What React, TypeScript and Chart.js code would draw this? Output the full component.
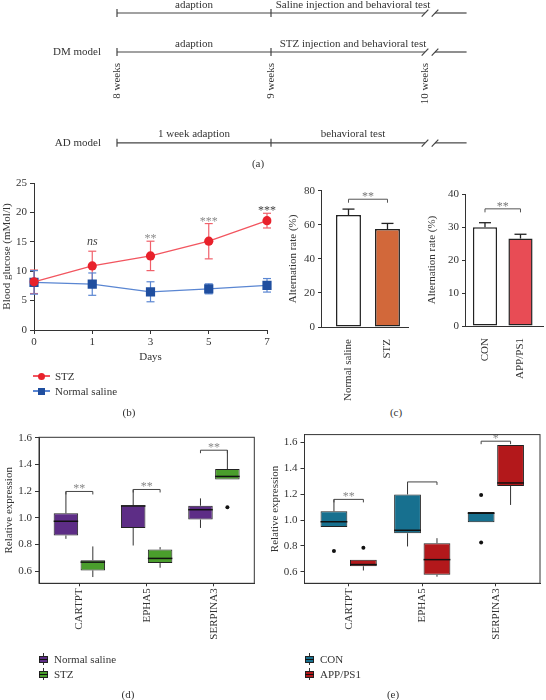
import React, { useEffect, useRef } from 'react';
import { Chart, registerables } from 'chart.js';

Chart.register(...registerables);

const FONT_FAMILY = '"Liberation Serif", "Times New Roman", serif';
const INK = '#333333';
Chart.defaults.font.family = FONT_FAMILY;
Chart.defaults.font.size = 11;
Chart.defaults.color = INK;

// ---------------- (a) timeline ----------------
const timelineWeeks = [8, 9, 10];
const timelineWeekLabels = ['8 weeks', '9 weeks', '10 weeks'];
const timelineRowLabels = ['', 'DM model', 'AD model'];
const timelinePhase1 = ['adaption', 'adaption', '1 week adaption'];
const timelinePhase2 = ['Saline injection and behavioral test', 'STZ injection and behavioral test', 'behavioral test'];
const timelineEndWeek = 10.27;

// ---------------- (b) blood glucose ----------------
const days = ['0', '1', '3', '5', '7'];
const stzGlucose = [8.2, 10.9, 12.6, 15.1, 18.6];
const stzGlucoseErr = [2.0, 2.5, 2.5, 3.0, 1.25];
const salineGlucose = [8.1, 7.8, 6.5, 7.0, 7.6];
const salineGlucoseErr = [2.0, 1.9, 1.7, 0.85, 1.15];
const glucoseSig = ['', 'ns', '**', '***', '***'];

// ---------------- (c) alternation rate ----------------
const dmGroups = ['Normal saline', 'STZ'];
const dmAlternation = [65.7, 57.5];
const dmAlternationErr = [3.5, 3.3];
const dmSigY = 75;
const adGroups = ['CON', 'APP/PS1'];
const adAlternation = [29.9, 26.5];
const adAlternationErr = [1.4, 1.3];
const adSigY = 35.5;

// ---------------- (d)/(e) relative expression ----------------
const genes = ['CARTPT', 'EPHA5', 'SERPINA3'];
const expressionTicks = [0.6, 0.8, 1.0, 1.2, 1.4, 1.6];
// [min, q1, median, q3, max] per gene
const dSalineBoxes = [
  [0.842, 0.867, 0.974, 1.034, 1.198],
  [0.792, 0.924, 1.089, 1.094, 1.213],
  [0.924, 0.987, 1.061, 1.091, 1.146],
];
const dStzBoxes = [
  [0.555, 0.605, 0.667, 0.682, 0.785],
  [0.625, 0.66, 0.695, 0.762, 0.78],
  [1.288, 1.288, 1.311, 1.366, 1.508],
];
const dSalineOutliers: number[][] = [];
const dStzOutliers = [[2, 1.079]];
const dBrackets = [[0, 1.198, '**'], [1, 1.213, '**'], [2, 1.508, '**']];

const eConBoxes = [
  [0.946, 0.946, 0.987, 1.068, 1.16],
  [0.796, 0.898, 0.921, 1.198, 1.295],
  [0.984, 0.984, 1.053, 1.063, 1.063],
];
const eAppBoxes = [
  [0.61, 0.643, 0.656, 0.694, 0.694],
  [0.562, 0.577, 0.694, 0.821, 0.86],
  [1.117, 1.264, 1.287, 1.58, 1.58],
];
const eConOutliers = [[0, 0.76], [2, 1.193], [2, 0.826]];
const eAppOutliers = [[0, 0.786]];
const eBrackets = [[0, 1.16, '**'], [1, 1.295, ''], [2, 1.61, '*']];

// ---------------- helpers ----------------
const font11 = { family: FONT_FAMILY, size: 11 };

function line(ctx: any, x1: number, y1: number, x2: number, y2: number) {
  ctx.beginPath();
  ctx.moveTo(x1, y1);
  ctx.lineTo(x2, y2);
  ctx.stroke();
}

function timelineConfig(): any {
  const rowY = [0, 1, 3.33];
  const breakGap = 0.065;
  const datasets: any[] = [];
  rowY.forEach((ry) => {
    datasets.push({ data: [{ x: timelineWeeks[0], y: ry }, { x: timelineWeeks[2], y: ry }] });
    datasets.push({ data: [{ x: timelineWeeks[2] + breakGap, y: ry }, { x: timelineEndWeek, y: ry }] });
  });
  datasets.forEach((d) => Object.assign(d, { showLine: true, borderColor: '#444', borderWidth: 1.2, pointRadius: 0 }));
  const plugin = {
    id: 'timelineMarks',
    afterDatasetsDraw(chart: any) {
      const { ctx, scales } = chart;
      const x = scales.x, y = scales.y;
      ctx.save();
      ctx.strokeStyle = '#444';
      ctx.lineWidth = 1.2;
      ctx.fillStyle = INK;
      ctx.font = `11px ${FONT_FAMILY}`;
      const [w0, w1, w2] = timelineWeeks;
      rowY.forEach((ry, r) => {
        const py = y.getPixelForValue(ry);
        [w0, w1].forEach((w) => {
          const px = x.getPixelForValue(w);
          line(ctx, px, py - 4, px, py + 4);
        });
        [w2, w2 + breakGap].forEach((w) => {
          const px = x.getPixelForValue(w);
          line(ctx, px - 3.3, py + 3.7, px + 3.3, py - 3.3);
        });
        ctx.textAlign = 'center';
        ctx.textBaseline = 'alphabetic';
        ctx.fillText(timelinePhase1[r], x.getPixelForValue((w0 + w1) / 2), py - 5.5);
        ctx.fillText(timelinePhase2[r], x.getPixelForValue((w1 + w2 + breakGap) / 2), py - 5.5);
        if (timelineRowLabels[r]) {
          ctx.textAlign = 'right';
          ctx.textBaseline = 'middle';
          ctx.fillText(timelineRowLabels[r], x.getPixelForValue(w0) - 16, py);
        }
      });
      const topY = y.getPixelForValue(rowY[1]) + 11;
      timelineWeeks.forEach((w, i) => {
        ctx.save();
        ctx.translate(x.getPixelForValue(w), topY);
        ctx.rotate(-Math.PI / 2);
        ctx.textAlign = 'right';
        ctx.textBaseline = 'middle';
        ctx.fillText(timelineWeekLabels[i], 0, 0);
        ctx.restore();
      });
      ctx.restore();
    },
  };
  const pxPerWeek = 154;
  const pxPerRow = 39;
  const canvasH = 158;
  const firstRowPx = 13;
  return {
    type: 'scatter',
    data: { datasets },
    options: {
      responsive: false,
      animation: false,
      layout: { padding: 0 },
      plugins: { legend: { display: false }, tooltip: { enabled: false } },
      scales: {
        x: { type: 'linear', display: false, min: 8 - 117 / pxPerWeek, max: 8 + (546 - 117) / pxPerWeek },
        y: { type: 'linear', display: false, reverse: true, min: -firstRowPx / pxPerRow, max: (canvasH - firstRowPx) / pxPerRow },
      },
    },
    plugins: [plugin],
  };
}

function glucoseConfig(): any {
  const errs = [stzGlucoseErr, salineGlucoseErr];
  const errColors = ['#f0606a', '#5a86d2'];
  const sigColors = ['#444', '#444', '#8a8a8a', '#8a8a8a', '#444'];
  const plugin = {
    id: 'glucoseErrors',
    beforeDatasetsDraw(chart: any) {
      const { ctx } = chart;
      const y = chart.scales.y;
      ctx.save();
      ctx.lineWidth = 1.2;
      chart.data.datasets.forEach((ds: any, di: number) => {
        const meta = chart.getDatasetMeta(di);
        ctx.strokeStyle = errColors[di];
        meta.data.forEach((pt: any, i: number) => {
          const v = ds.data[i];
          const e = errs[di][i];
          const yt = y.getPixelForValue(v + e);
          const yb = y.getPixelForValue(v - e);
          line(ctx, pt.x, yt, pt.x, yb);
          line(ctx, pt.x - 4, yt, pt.x + 4, yt);
          line(ctx, pt.x - 4, yb, pt.x + 4, yb);
        });
      });
      ctx.restore();
    },
    afterDatasetsDraw(chart: any) {
      const { ctx } = chart;
      const y = chart.scales.y;
      const meta = chart.getDatasetMeta(0);
      ctx.save();
      ctx.textAlign = 'center';
      ctx.textBaseline = 'alphabetic';
      glucoseSig.forEach((s, i) => {
        if (!s) return;
        const pt = meta.data[i];
        const yt = y.getPixelForValue(stzGlucose[i] + stzGlucoseErr[i]);
        ctx.fillStyle = sigColors[i];
        if (s === 'ns') {
          ctx.font = `italic 12px ${FONT_FAMILY}`;
          ctx.fillText(s, pt.x, yt - 6);
        } else {
          ctx.font = `12px ${FONT_FAMILY}`;
          ctx.fillText(s, pt.x, yt + 1);
        }
      });
      ctx.restore();
    },
  };
  return {
    type: 'line',
    data: {
      labels: days,
      datasets: [
        {
          label: 'STZ', data: stzGlucose, borderColor: '#f2555f', borderWidth: 1.3, tension: 0,
          pointStyle: 'circle', pointRadius: 4.6, pointBackgroundColor: '#e8212b', pointBorderColor: '#e8212b', pointBorderWidth: 0,
        },
        {
          label: 'Normal saline', data: salineGlucose, borderColor: '#5a86d2', borderWidth: 1.3, tension: 0,
          pointStyle: 'rect', pointRadius: 6.5, pointBackgroundColor: '#1f4e9f', pointBorderColor: '#1f4e9f', pointBorderWidth: 0,
        },
      ],
    },
    options: {
      responsive: false,
      animation: false,
      layout: { padding: { top: 13, right: 13, left: 0, bottom: 0 } },
      plugins: { legend: { display: false }, tooltip: { enabled: false } },
      scales: {
        x: {
          offset: false,
          grid: { drawOnChartArea: false, drawTicks: true, tickLength: 4, color: INK },
          border: { color: INK, width: 1 },
          ticks: { padding: 2, font: font11, color: INK },
          title: { display: true, text: 'Days', font: font11, color: INK, padding: { top: 0, bottom: 6 } },
          afterFit: (s: any) => { s.height = 40; },
        },
        y: {
          min: 0, max: 25,
          ticks: { stepSize: 5, padding: 3, font: font11, color: INK },
          grid: { drawOnChartArea: false, drawTicks: true, tickLength: 4, color: INK },
          border: { color: INK, width: 1 },
          title: { display: true, text: 'Blood glucose (mMol/l)', font: font11, color: INK, padding: { top: 0.5, bottom: 0 } },
          afterFit: (s: any) => { s.width = 34; },
        },
      },
    },
    plugins: [plugin],
  };
}

function alternationConfig(o: any): any {
  const { groups, values, errs, colors, yMax, yStep, xMin, xMax, barPct, sigY, sigLabel, axisW, axisH, padTop, padRight, titlePad } = o;
  const plugin = {
    id: 'barExtras',
    afterDatasetsDraw(chart: any) {
      const { ctx } = chart;
      const x = chart.scales.x, y = chart.scales.y;
      const meta = chart.getDatasetMeta(0);
      ctx.save();
      ctx.strokeStyle = '#222';
      ctx.lineWidth = 1.3;
      meta.data.forEach((bar: any, i: number) => {
        const yt = y.getPixelForValue(values[i] + errs[i]);
        const yv = y.getPixelForValue(values[i]);
        line(ctx, bar.x, yv, bar.x, yt);
        line(ctx, bar.x - 6, yt, bar.x + 6, yt);
      });
      const by = y.getPixelForValue(sigY);
      const x0 = x.getPixelForValue(0), x1 = x.getPixelForValue(1);
      ctx.strokeStyle = '#555';
      ctx.lineWidth = 1;
      ctx.beginPath();
      ctx.moveTo(x0, by + 3.5);
      ctx.lineTo(x0, by);
      ctx.lineTo(x1, by);
      ctx.lineTo(x1, by + 3.5);
      ctx.stroke();
      ctx.fillStyle = '#777';
      ctx.font = `12px ${FONT_FAMILY}`;
      ctx.textAlign = 'center';
      ctx.textBaseline = 'alphabetic';
      ctx.fillText(sigLabel, (x0 + x1) / 2, by + 1);
      ctx.restore();
    },
  };
  return {
    type: 'bar',
    data: {
      datasets: [{
        data: values.map((v: number, i: number) => ({ x: i, y: v })),
        backgroundColor: colors, borderColor: '#222', borderWidth: 1.5, borderSkipped: false,
        grouped: false, barPercentage: barPct, categoryPercentage: 1,
      }],
    },
    options: {
      responsive: false,
      animation: false,
      layout: { padding: { top: padTop, right: padRight, left: 0, bottom: 0 } },
      plugins: { legend: { display: false }, tooltip: { enabled: false } },
      scales: {
        x: {
          type: 'linear', min: xMin, max: xMax, offset: false,
          afterBuildTicks: (s: any) => { s.ticks = groups.map((_: any, i: number) => ({ value: i })); },
          ticks: { callback: (v: any) => groups[v], minRotation: 90, maxRotation: 90, autoSkip: false, padding: 4, font: font11, color: INK },
          grid: { display: false },
          border: { color: INK, width: 1 },
          afterFit: (s: any) => { s.height = axisH; },
        },
        y: {
          min: 0, max: yMax, beginAtZero: false,
          ticks: { stepSize: yStep, padding: 3, font: font11, color: INK },
          grid: { drawOnChartArea: false, drawTicks: true, tickLength: 3, color: INK },
          border: { color: INK, width: 1 },
          title: { display: true, text: 'Alternation rate (%)', font: font11, color: INK, padding: { top: titlePad, bottom: 0 } },
          afterFit: (s: any) => { s.width = axisW; },
        },
      },
    },
    plugins: [plugin],
  };
}

const DODGE = 0.2;

function boxConfig(o: any): any {
  const { boxesA, boxesB, colorA, colorB, outA, outB, brackets, yMin, yMax, axisW, axisH, padTop, padRight, titlePad } = o;
  const boxSets = [boxesA, boxesB];
  const offsets = [-DODGE, DODGE];
  const plugin = {
    id: 'boxExtras',
    afterDatasetsDraw(chart: any) {
      const { ctx, chartArea } = chart;
      const x = chart.scales.x, y = chart.scales.y;
      ctx.save();
      boxSets.forEach((boxes: number[][], g: number) => {
        const meta = chart.getDatasetMeta(g);
        boxes.forEach((b, i) => {
          const [mn, q1, md, q3, mx] = b;
          const bar = meta.data[i];
          const cx = bar.x;
          const half = bar.width / 2;
          ctx.strokeStyle = '#333';
          ctx.lineWidth = 1;
          if (mx > q3) line(ctx, cx, y.getPixelForValue(q3), cx, y.getPixelForValue(mx));
          if (mn < q1) line(ctx, cx, y.getPixelForValue(q1), cx, y.getPixelForValue(mn));
          ctx.strokeStyle = '#111';
          ctx.lineWidth = 1.5;
          line(ctx, cx - half, y.getPixelForValue(md), cx + half, y.getPixelForValue(md));
        });
      });
      brackets.forEach((br: any) => {
        const [gi, h, label] = br;
        const x0 = x.getPixelForValue(gi + 1 + offsets[0]);
        const x1 = x.getPixelForValue(gi + 1 + offsets[1]);
        const by = y.getPixelForValue(h);
        ctx.strokeStyle = '#444';
        ctx.lineWidth = 1;
        ctx.beginPath();
        ctx.moveTo(x0, by + 3);
        ctx.lineTo(x0, by);
        ctx.lineTo(x1, by);
        ctx.lineTo(x1, by + 3);
        ctx.stroke();
        if (label) {
          ctx.fillStyle = '#888';
          ctx.font = `12px ${FONT_FAMILY}`;
          ctx.textAlign = 'center';
          ctx.textBaseline = 'alphabetic';
          ctx.fillText(label, (x0 + x1) / 2, by + 0.5);
        }
      });
      ctx.strokeStyle = INK;
      ctx.lineWidth = 1;
      ctx.strokeRect(chartArea.left, chartArea.top, chartArea.right - chartArea.left, chartArea.bottom - chartArea.top);
      ctx.restore();
    },
  };
  const boxDataset = (boxes: number[][], g: number, color: string) => ({
    type: 'bar',
    data: boxes.map((b, i) => ({ x: i + 1 + offsets[g], y: [b[1], b[3]] })),
    backgroundColor: color, borderColor: '#222', borderWidth: 1, borderSkipped: false,
    grouped: false, barPercentage: 0.91, categoryPercentage: 1,
  });
  const outlierDataset = (outs: number[][], g: number) => ({
    type: 'scatter',
    data: outs.map(([gi, v]) => ({ x: gi + 1 + offsets[g], y: v })),
    pointRadius: 2, pointBackgroundColor: '#111', pointBorderWidth: 0,
  });
  return {
    type: 'bar',
    data: {
      datasets: [
        boxDataset(boxesA, 0, colorA),
        boxDataset(boxesB, 1, colorB),
        outlierDataset(outA, 0),
        outlierDataset(outB, 1),
      ],
    },
    options: {
      responsive: false,
      animation: false,
      layout: { padding: { top: padTop, right: padRight, left: 0, bottom: 0 } },
      plugins: { legend: { display: false }, tooltip: { enabled: false } },
      scales: {
        x: {
          type: 'linear', min: 0.4, max: 3.6, offset: false,
          afterBuildTicks: (s: any) => { s.ticks = genes.map((_, i) => ({ value: i + 1 })); },
          ticks: { callback: (v: any) => genes[v - 1], minRotation: 90, maxRotation: 90, autoSkip: false, padding: 2, font: font11, color: INK },
          grid: { drawOnChartArea: false, drawTicks: true, tickLength: 3, color: INK, offset: false },
          border: { color: INK, width: 1 },
          afterFit: (s: any) => { s.height = axisH; },
        },
        y: {
          min: yMin, max: yMax, beginAtZero: false,
          afterBuildTicks: (s: any) => { s.ticks = expressionTicks.map((v) => ({ value: v })); },
          ticks: { callback: (v: any) => Number(v).toFixed(1), padding: 3, font: font11, color: INK },
          grid: { drawOnChartArea: false, drawTicks: true, tickLength: 4, color: INK },
          border: { color: INK, width: 1 },
          title: { display: true, text: 'Relative expression', font: font11, color: INK, padding: { top: titlePad, bottom: 0 } },
          afterFit: (s: any) => { s.width = axisW; },
        },
      },
    },
    plugins: [plugin],
  };
}

function ChartCanvas({ left, top, width, height, make }: any) {
  const ref = useRef<HTMLCanvasElement>(null);
  useEffect(() => {
    const chart = new Chart(ref.current as HTMLCanvasElement, make());
    return () => chart.destroy();
  }, []);
  return (
    <canvas
      ref={ref}
      width={width}
      height={height}
      style={{ position: 'absolute', left, top, width, height }}
    />
  );
}

const textStyle: any = { fontFamily: FONT_FAMILY, fontSize: 11, color: INK, whiteSpace: 'nowrap' };

function Caption({ x, y, text }: any) {
  return (
    <div style={{ ...textStyle, position: 'absolute', left: x - 20, width: 40, top: y - 7, lineHeight: '14px', textAlign: 'center' }}>
      {text}
    </div>
  );
}

function LineKey({ left, y, label, color, lineColor, shape }: any) {
  return (
    <div style={{ ...textStyle, position: 'absolute', left, top: y - 7, height: 14, lineHeight: '14px', display: 'flex', alignItems: 'center' }}>
      <span style={{ position: 'relative', display: 'inline-block', width: 17, height: 10, marginRight: 5 }}>
        <span style={{ position: 'absolute', left: 0, width: 17, top: 4.4, height: 1.3, background: lineColor }} />
        <span style={{ position: 'absolute', left: 5, top: 1.5, width: 7, height: 7, borderRadius: shape === 'circle' ? '50%' : 0, background: color }} />
      </span>
      {label}
    </div>
  );
}

function BoxKey({ left, y, label, color }: any) {
  return (
    <div style={{ ...textStyle, position: 'absolute', left, top: y - 7, height: 14, lineHeight: '14px', display: 'flex', alignItems: 'center' }}>
      <span style={{ position: 'relative', display: 'inline-block', width: 9, height: 12, marginRight: 6 }}>
        <span style={{ position: 'absolute', left: 4, top: 0, width: 1, height: 12, background: '#333' }} />
        <span style={{ position: 'absolute', left: 0, top: 2.5, width: 9, height: 7, boxSizing: 'border-box', border: '1px solid #222', background: color }} />
        <span style={{ position: 'absolute', left: 0, top: 5.5, width: 9, height: 1, background: '#111' }} />
      </span>
      {label}
    </div>
  );
}

const PURPLE = '#5d2d86';
const GREEN = '#4a9e2c';
const TEAL = '#17708f';
const RED = '#b3181b';

export default function App() {
  return (
    <div style={{ position: 'absolute', left: 0, top: 0, width: 546, height: 700, background: '#fff', overflow: 'hidden' }}>
      <ChartCanvas left={0} top={0} width={546} height={158} make={timelineConfig} />
      <Caption x={258} y={163} text="(a)" />

      <ChartCanvas left={0} top={170} width={280} height={200} make={glucoseConfig} />
      <LineKey left={33} y={376} label="STZ" color="#e8212b" lineColor="#f2555f" shape="circle" />
      <LineKey left={33} y={391} label="Normal saline" color="#1f4e9f" lineColor="#5a86d2" shape="rect" />
      <Caption x={129} y={412} text="(b)" />

      <ChartCanvas
        left={280} top={175} width={130} height={230}
        make={() => alternationConfig({
          groups: dmGroups, values: dmAlternation, errs: dmAlternationErr, colors: ['#ffffff', '#d2683a'],
          yMax: 80, yStep: 20, xMin: -0.705, xMax: 1.526, barPct: 0.64, sigY: dmSigY, sigLabel: '**',
          axisW: 41, axisH: 78, padTop: 15.7, padRight: 2, titlePad: 6.4,
        })}
      />
      <ChartCanvas
        left={420} top={175} width={126} height={230}
        make={() => alternationConfig({
          groups: adGroups, values: adAlternation, errs: adAlternationErr, colors: ['#ffffff', '#e84c55'],
          yMax: 40, yStep: 10, xMin: -0.563, xMax: 1.634, barPct: 0.68, sigY: adSigY, sigLabel: '**',
          axisW: 45, axisH: 79, padTop: 19, padRight: 3, titlePad: 5.1,
        })}
      />
      <Caption x={396} y={412} text="(c)" />

      <ChartCanvas
        left={0} top={425} width={273} height={220}
        make={() => boxConfig({
          boxesA: dSalineBoxes, boxesB: dStzBoxes, colorA: PURPLE, colorB: GREEN,
          outA: dSalineOutliers, outB: dStzOutliers, brackets: dBrackets, yMin: 0.508, yMax: 1.605,
          axisW: 39, axisH: 61.7, padTop: 12.3, padRight: 18.7, titlePad: 2.4,
        })}
      />
      <BoxKey left={39} y={659} label="Normal saline" color={PURPLE} />
      <BoxKey left={39} y={674} label="STZ" color={GREEN} />
      <Caption x={128} y={694} text="(d)" />

      <ChartCanvas
        left={266} top={425} width={280} height={220}
        make={() => boxConfig({
          boxesA: eConBoxes, boxesB: eAppBoxes, colorA: TEAL, colorB: RED,
          outA: eConOutliers, outB: eAppOutliers, brackets: eBrackets, yMin: 0.511, yMax: 1.661,
          axisW: 38.5, axisH: 61.7, padTop: 7.7, padRight: 6, titlePad: 2.4,
        })}
      />
      <BoxKey left={305} y={659} label="CON" color={TEAL} />
      <BoxKey left={305} y={674} label="APP/PS1" color={RED} />
      <Caption x={393} y={694} text="(e)" />
    </div>
  );
}
